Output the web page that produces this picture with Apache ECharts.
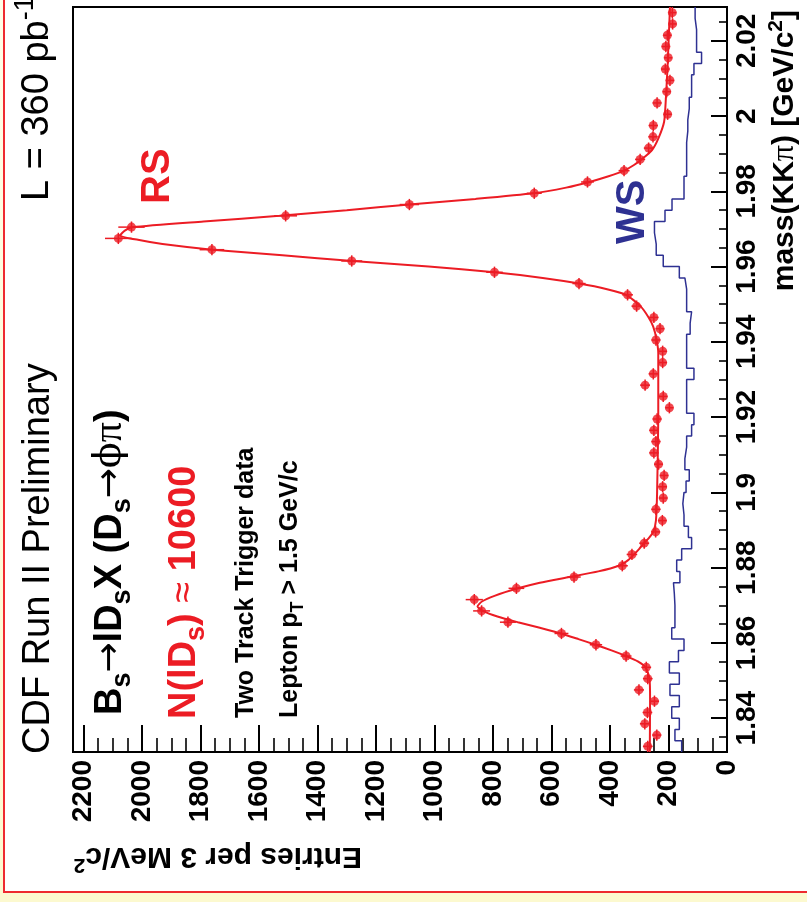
<!DOCTYPE html>
<html>
<head>
<meta charset="utf-8">
<title>B_s → l D_s X mass spectrum</title>
<script src="https://cdn.jsdelivr.net/npm/echarts@6/dist/echarts.min.js"></script>
<style>
  html, body { margin: 0; padding: 0; }
  body { width: 807px; height: 902px; overflow: hidden; position: relative;
         background: linear-gradient(180deg, #fffde6 0%, #fcf9cf 100%); }
  #frame { position: absolute; left: 3px; top: -20px; width: 900px; height: 909px;
           border: 2px solid #ee2a2f; background: #ffffff; }
  #chart { position: absolute; left: 0; top: 0; width: 807px; height: 902px; }
</style>
</head>
<body>
<div id="frame"></div>
<div id="chart"></div>
<script>
// Mass bin centres, GeV/c^2 (3 MeV bins)
const massCenters = [
  1.8325, 1.8355, 1.8385, 1.8415, 1.8445, 1.8475, 1.8505, 1.8535, 1.8565, 1.8595,
  1.8625, 1.8655, 1.8685, 1.8715, 1.8745, 1.8775, 1.8805, 1.8835, 1.8865, 1.8895,
  1.8925, 1.8955, 1.8985, 1.9015, 1.9045, 1.9075, 1.9105, 1.9135, 1.9165, 1.9195,
  1.9225, 1.9255, 1.9285, 1.9315, 1.9345, 1.9375, 1.9405, 1.9435, 1.9465, 1.9495,
  1.9525, 1.9555, 1.9585, 1.9615, 1.9645, 1.9675, 1.9705, 1.9735, 1.9765, 1.9795,
  1.9825, 1.9855, 1.9885, 1.9915, 1.9945, 1.9975, 2.0005, 2.0035, 2.0065, 2.0095,
  2.0125, 2.0155, 2.0185, 2.0215, 2.0245, 2.0275
];

// Right-sign (RS) candidates per bin
const rsCounts = [
  271, 240, 281, 272, 248, 301, 271, 276, 345, 448,
  566, 749, 839, 864, 720, 523, 358, 325, 283, 244,
  221, 243, 218, 220, 215, 234, 250, 243, 250, 239,
  197, 218, 280, 252, 220, 220, 243, 229, 250, 309,
  340, 506, 795, 1283, 1761, 2081, 2036, 1509, 1086, 659,
  477, 352, 297, 268, 253, 252, 203, 239, 206, 195,
  211, 201, 209, 204, 186, 187
];

// Wrong-sign (WS) candidates per bin
const wsCounts = [
  155, 178, 163, 189, 163, 195, 163, 197, 166, 147,
  189, 178, 178, 180, 183, 161, 172, 155, 121, 132,
  147, 151, 147, 140, 129, 144, 138, 138, 121, 113,
  138, 138, 138, 113, 138, 138, 138, 126, 121, 138,
  138, 144, 163, 218, 242, 248, 248, 212, 188, 147,
  147, 138, 138, 138, 134, 134, 129, 129, 121, 121,
  113, 87, 104, 104, 109, 109
];

// Fit curve through the RS spectrum (two peaks on a linear background)
const fitMass = [
  1.8310, 1.8450, 1.8505, 1.8535, 1.8551, 1.8565, 1.8580, 1.8595, 1.8610, 1.8625,
  1.8640, 1.8655, 1.8670, 1.8685, 1.8697, 1.8710, 1.8725, 1.8745, 1.8760, 1.8775,
  1.8790, 1.8805, 1.8820, 1.8835, 1.8850, 1.8865, 1.8880, 1.8895, 1.8925, 1.9000,
  1.9200, 1.9370, 1.9407, 1.9440, 1.9465, 1.9495, 1.9525, 1.9540, 1.9555, 1.9570,
  1.9585, 1.9600, 1.9615, 1.9630, 1.9645, 1.9660, 1.9670, 1.9683, 1.9695, 1.9705,
  1.9720, 1.9735, 1.9750, 1.9765, 1.9780, 1.9795, 1.9810, 1.9825, 1.9840, 1.9855,
  1.9870, 1.9885, 1.9909, 1.9940, 1.9985, 2.0047, 2.0135, 2.0290
];
const fitCounts = [
  264, 263, 265, 278, 305, 345, 395, 450, 508, 568,
  640, 715, 785, 835, 853, 838, 795, 715, 640, 540,
  440, 370, 338, 318, 300, 284, 266, 252, 243, 239,
  235, 235, 241, 252, 268, 296, 345, 410, 505, 630,
  795, 1020, 1280, 1520, 1760, 1930, 2005, 2075, 2060, 2030,
  1790, 1530, 1300, 1086, 860, 662, 550, 470, 405, 352,
  318, 292, 257, 235, 215, 209, 203, 195
];

// Axis ticks and labels
const countTicks = [0, 200, 400, 600, 800, 1000, 1200, 1400, 1600, 1800, 2000, 2200];
const countTickLabels = ['0', '200', '400', '600', '800', '1000', '1200', '1400', '1600', '1800', '2000', '2200'];
const massTicks = [1.84, 1.86, 1.88, 1.90, 1.92, 1.94, 1.96, 1.98, 2.00, 2.02];
const massTickLabels = ['1.84', '1.86', '1.88', '1.9', '1.92', '1.94', '1.96', '1.98', '2', '2.02'];

const FONT = '"Liberation Sans", Arial, Helvetica, sans-serif';
const PHI_FONT = '"DejaVu Serif", "Liberation Serif", serif';
const PI_FONT = '"Liberation Serif", "DejaVu Serif", serif';
const ARROW_FONT = '"DejaVu Sans", sans-serif';
const RED = '#ec1c24';
const BLUE = '#2e3192';
const COUNT_MAX = 2236;
const MASS_MIN = 1.831, MASS_MAX = 2.029;

// minor ticks: four divisions per labelled interval
const countMinor = [];
for (let i = 0; i < countTicks.length - 1; i++) {
  const step = (countTicks[i + 1] - countTicks[i]) / 4;
  for (let k = 1; k < 4; k++) countMinor.push(countTicks[i] + k * step);
}
const massMinor = [];
{
  const step = (massTicks[1] - massTicks[0]) / 4;
  for (let v = massTicks[0] - step; v < MASS_MAX; v += step) {
    const isMajor = massTicks.some(t => Math.abs(t - v) < 1e-6);
    if (!isMajor && v > MASS_MIN) massMinor.push(+v.toFixed(4));
  }
}

const halfBin = (massCenters[1] - massCenters[0]) / 2;

const rsPoints = rsCounts.map((c, i) => [c, massCenters[i]]);
const fitPoints = fitCounts.map((c, i) => [c, fitMass[i]]);
const wsStep = [];
wsCounts.forEach((c, i) => {
  wsStep.push([c, massCenters[i] - halfBin]);
  wsStep.push([c, massCenters[i] + halfBin]);
});

function lookupLabel(ticks, labels) {
  return function (v) {
    const i = ticks.findIndex(t => Math.abs(t - v) < 1e-6);
    return i >= 0 ? labels[i] : '';
  };
}

// rich-text styles for sub/superscripts, arrows and greek letters at a given font size
function richSet(f, weight, color) {
  const L = Math.round(f * 1.2);
  return {
    m:   { fontSize: f, fontWeight: weight, fontFamily: FONT, fill: color, lineHeight: L },
    g:   { fontSize: f, fontWeight: 'normal', fontFamily: FONT, fill: color, lineHeight: L },
    phi: { fontSize: f, fontWeight: 'normal', fontFamily: PHI_FONT, fill: color, lineHeight: L },
    pi:  { fontSize: Math.round(f * 1.05), fontWeight: 'normal', fontFamily: PI_FONT, fill: color, lineHeight: L },
    ar:  { fontSize: Math.round(f * 0.95), fontWeight: 'normal', fontFamily: ARROW_FONT, fill: color, lineHeight: L },
    sub: { fontSize: Math.round(f * 0.7), fontWeight: weight, fontFamily: FONT, fill: color,
           verticalAlign: 'bottom', height: Math.round(f * 0.59) },
    sup: { fontSize: Math.round(f * 0.7), fontWeight: weight, fontFamily: FONT, fill: color,
           verticalAlign: 'top', height: Math.round(f * 0.61) }
  };
}

function vtext(text, x, y, f, weight, color, rotation, align) {
  return {
    type: 'text', x: x, y: y, rotation: rotation, z: 10,
    style: {
      text: text, fontSize: f, fontWeight: weight, fontFamily: FONT, fill: color,
      align: align || 'left', verticalAlign: 'middle', lineHeight: Math.round(f * 1.2),
      rich: richSet(f, weight, color)
    }
  };
}

const UP = Math.PI / 2;

const chart = echarts.init(document.getElementById('chart'), null, { renderer: 'canvas' });

chart.setOption({
  animation: false,
  backgroundColor: 'transparent',
  grid: {
    left: 73, top: 7, width: 654, height: 745,
    show: true, borderColor: '#000', borderWidth: 2, backgroundColor: 'transparent',
    containLabel: false, outerBoundsMode: 'none'
  },
  xAxis: [
    {
      type: 'value', inverse: true, min: 0, max: COUNT_MAX, position: 'bottom',
      axisLine: { show: true, onZero: false, lineStyle: { color: '#000', width: 2 } },
      axisTick: { show: true, inside: true, length: 27, customValues: countTicks,
                  lineStyle: { color: '#000', width: 2 } },
      axisLabel: { show: true, customValues: countTicks, rotate: 90, margin: 8,
                   color: '#000', fontSize: 28, fontWeight: 'bold', fontFamily: FONT,
                   formatter: lookupLabel(countTicks, countTickLabels) },
      splitLine: { show: false }
    },
    {
      type: 'value', inverse: true, min: 0, max: COUNT_MAX, position: 'bottom',
      axisLine: { show: false, onZero: false },
      axisTick: { show: true, inside: true, length: 14, customValues: countMinor,
                  lineStyle: { color: '#000', width: 1.6 } },
      axisLabel: { show: false },
      splitLine: { show: false }
    }
  ],
  yAxis: [
    {
      type: 'value', min: MASS_MIN, max: MASS_MAX, position: 'right',
      axisLine: { show: true, onZero: false, lineStyle: { color: '#000', width: 2 } },
      axisTick: { show: true, inside: true, length: 16, customValues: massTicks,
                  lineStyle: { color: '#000', width: 2 } },
      axisLabel: { show: true, customValues: massTicks, rotate: 90, margin: 6,
                   color: '#000', fontSize: 28, fontWeight: 'bold', fontFamily: FONT,
                   formatter: lookupLabel(massTicks, massTickLabels) },
      splitLine: { show: false }
    },
    {
      type: 'value', min: MASS_MIN, max: MASS_MAX, position: 'right',
      axisLine: { show: false, onZero: false },
      axisTick: { show: true, inside: true, length: 8, customValues: massMinor,
                  lineStyle: { color: '#000', width: 1.6 } },
      axisLabel: { show: false },
      splitLine: { show: false }
    }
  ],
  series: [
    {
      name: 'WS', type: 'line', data: wsStep, xAxisIndex: 0, yAxisIndex: 0,
      showSymbol: false, symbol: 'none', z: 2,
      lineStyle: { color: BLUE, width: 1.5 }
    },
    {
      name: 'fit', type: 'line', data: fitPoints, xAxisIndex: 0, yAxisIndex: 0,
      showSymbol: false, symbol: 'none', smooth: 0.2, z: 3,
      lineStyle: { color: RED, width: 2 }
    },
    {
      name: 'RS errors', type: 'custom', data: rsPoints, xAxisIndex: 0, yAxisIndex: 0,
      encode: { x: 0, y: 1 }, z: 4,
      renderItem: function (params, api) {
        const c = api.value(0), m = api.value(1), e = Math.sqrt(c);
        const a = api.coord([c - e, m]), b = api.coord([c + e, m]);
        const p = api.coord([c, m - halfBin]), q = api.coord([c, m + halfBin]);
        return {
          type: 'group',
          children: [
            { type: 'line', shape: { x1: a[0], y1: a[1], x2: b[0], y2: b[1] },
              style: { stroke: RED, lineWidth: 1.5 } },
            { type: 'line', shape: { x1: p[0], y1: p[1], x2: q[0], y2: q[1] },
              style: { stroke: RED, lineWidth: 1.5 } }
          ]
        };
      }
    },
    {
      name: 'RS', type: 'scatter', data: rsPoints, xAxisIndex: 0, yAxisIndex: 0,
      symbol: 'circle', symbolSize: 9, z: 5,
      itemStyle: { color: RED }
    }
  ],
  graphic: [
    vtext('{g|CDF Run II Preliminary}', 39, 754, 38, 'normal', '#000', UP),
    vtext('{g|L = 360 pb}{sup|-1}', 37.5, 201, 38, 'normal', '#000', UP),
    vtext('{m|B}{sub|s}{ar|→}{m|lD}{sub|s}{m|X (D}{sub|s}{ar|→}{phi|ϕ}{pi|π}{m|)}', 110.5, 715, 38, 'bold', '#000', UP),
    vtext('{m|N(lD}{sub|s}{m|) }{g|≈}{m| 10600}', 185, 719, 38, 'bold', RED, UP),
    vtext('{m|Two Track Trigger data}', 246, 718, 25, 'bold', '#000', UP),
    vtext('{m|Lepton p}{sub|T}{m| > 1.5 GeV/c}', 290.5, 718, 25, 'bold', '#000', UP),
    vtext('{m|RS}', 157.5, 204, 40, 'bold', RED, UP),
    vtext('{m|WS}', 632.5, 244, 40, 'bold', BLUE, UP),
    vtext('{m|mass(KK}{pi|π}{m|) [GeV/c}{sup|2}{m|]}', 785, 10, 30, 'bold', '#000', UP, 'right'),
    vtext('{m|Entries per 3 MeV/c}{sup|2}', 362, 856, 30, 'bold', '#000', Math.PI)
  ]
});
</script>
</body>
</html>
